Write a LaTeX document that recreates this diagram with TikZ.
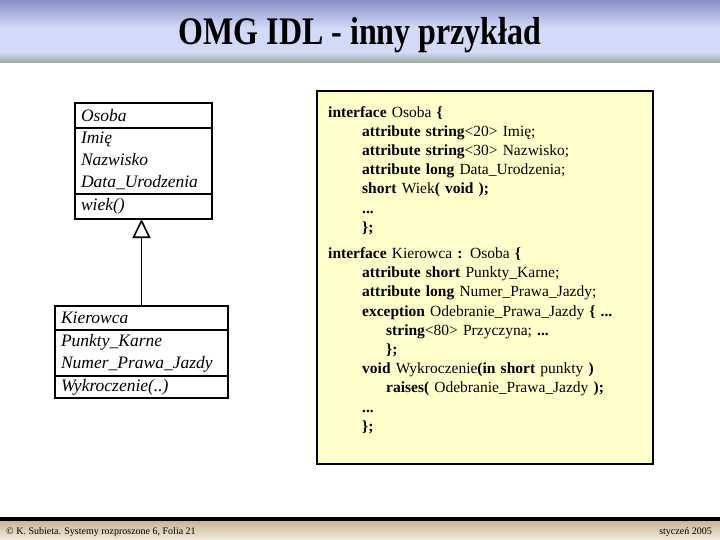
\documentclass[tikz,border=0pt]{standalone}
\usepackage{fontspec}
\setmainfont{Liberation Serif}
\usepackage{tikz}
\usetikzlibrary{positioning,arrows.meta,calc}
\definecolor{ink}      {HTML}{000000}
\definecolor{notefill} {HTML}{FFFFCC}
\definecolor{bandtop}  {HTML}{8A91CA}
\definecolor{bandmid}  {HTML}{D2DAF8}
\definecolor{bandlow}  {HTML}{98A898}
\definecolor{foottop}  {HTML}{C4B492}
\definecolor{footlow}  {HTML}{F2ECDC}
\tikzset{
  % --- nodes
  cls/.style   = {draw=ink, line width=1.6pt, outer sep=0pt, inner xsep=6pt, inner ysep=0pt,
                  align=left, font=\fontsize{17.5}{21.8}\selectfont\itshape},
  note/.style  = {draw=ink, line width=2.6pt, fill=notefill, outer sep=0pt},
  code/.style  = {inner sep=0pt, align=left, text width=320pt,
                  font=\fontsize{15.5}{19.2}\selectfont},
  ttl/.style   = {font=\fontsize{32}{36}\selectfont\bfseries},
  foot/.style  = {font=\fontsize{10}{11}\selectfont, inner sep=0pt},
  % --- edges
  gen/.style   = {-{Triangle[open,width=18pt,length=19pt]}, line width=1.6pt, draw=ink},
}
\begin{document}
\begin{tikzpicture}[x=1pt,y=-1pt,
  ocls/.style={cls,text width=125pt},
  kcls/.style={cls,text width=161pt},
]
  \useasboundingbox (0,0) rectangle (720,540);
  \fill[white] (0,0) rectangle (720,540);
  % title band
  \shade[top color=bandtop,bottom color=bandmid] (0,0) rectangle (720,28);
  \fill[bandmid] (0,28) rectangle (720,52);
  \shade[top color=bandmid,bottom color=bandlow] (0,52) rectangle (720,63);
  \node[ttl,anchor=base] (title) at (360,45) {\scalebox{1}[1.22]{OMG IDL - inny przykład}};
  % footer band
  \shade[top color=foottop,bottom color=footlow] (0,520) rectangle (720,540);
  \fill[ink] (0,517) rectangle (720,520.5);
  \node[foot,anchor=base west] (author) at (6,534) {© K. Subieta. Systemy rozproszone 6, Folia 21};
  \node[foot,anchor=base east] (date) at (712,534) {styczeń 2005};

  % class Osoba
  \node[ocls,minimum height=25pt,anchor=north west] (osoba) at (75,103) {Osoba};
  \node[ocls,minimum height=66pt,below=0pt of osoba] (osobaattr) {Imię\\Nazwisko\\Data\_Urodzenia};
  \node[ocls,minimum height=25pt,below=0pt of osobaattr] (osobaop) {wiek()};
  % class Kierowca
  \node[kcls,minimum height=24pt,anchor=north west] (kier) at (55,306) {Kierowca};
  \node[kcls,minimum height=46pt,below=0pt of kier] (kierattr) {Punkty\_Karne\\Numer\_Prawa\_Jazdy};
  \node[kcls,minimum height=22pt,below=0pt of kierattr] (kierop) {Wykroczenie(..)};
  \draw[gen] (kier.north) -- (kier.north |- osobaop.south);

  % IDL text
  \node[note,minimum width=336pt,minimum height=373pt,anchor=north west] (idl) at (317,91) {};
  \node[code,anchor=north west] (idlcode) at (328,106) {%
    \textbf{interface} Osoba \textbf{\{}\\
    \hspace*{34pt}\textbf{attribute string}<20> Imię;\\
    \hspace*{34pt}\textbf{attribute string}<30> Nazwisko;\\
    \hspace*{34pt}\textbf{attribute long} Data\_Urodzenia;\\
    \hspace*{34pt}\textbf{short} Wiek\textbf{( void );}\\
    \hspace*{34pt}\textbf{...}\\
    \hspace*{34pt}\textbf{\};}\\[7pt]
    \textbf{interface} Kierowca \textbf{:} Osoba \textbf{\{}\\
    \hspace*{34pt}\textbf{attribute short} Punkty\_Karne;\\
    \hspace*{34pt}\textbf{attribute long} Numer\_Prawa\_Jazdy;\\
    \hspace*{34pt}\textbf{exception} Odebranie\_Prawa\_Jazdy \textbf{\{ ...}\\
    \hspace*{58pt}\textbf{string}<80> Przyczyna; \textbf{...}\\
    \hspace*{58pt}\textbf{\};}\\
    \hspace*{34pt}\textbf{void} Wykroczenie\textbf{(in short} punkty \textbf{)}\\
    \hspace*{58pt}\textbf{raises(} Odebranie\_Prawa\_Jazdy \textbf{);}\\
    \hspace*{34pt}\textbf{...}\\
    \hspace*{34pt}\textbf{\};}};
\end{tikzpicture}
\end{document}
